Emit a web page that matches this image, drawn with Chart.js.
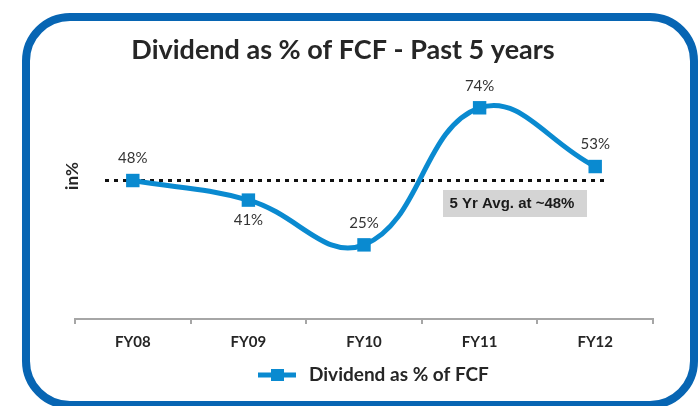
<!DOCTYPE html>
<html>
<head>
<meta charset="utf-8">
<script src="https://cdn.jsdelivr.net/npm/chart.js@4/dist/chart.umd.min.js"></script>
<style>
  html, body { margin: 0; padding: 0; background: #ffffff; }
  #wrap { position: relative; width: 698px; height: 406px; }
</style>
</head>
<body>
<div id="wrap"><canvas id="c" width="698" height="406"></canvas></div>
<script>
const categories = ['FY08', 'FY09', 'FY10', 'FY11', 'FY12'];
const dividendPct = [48, 41, 25, 74, 53];
const labelPlacement = ['above', 'below', 'above', 'above', 'above'];
const avgValue = [48];
const avgText = ['5 Yr Avg. at ~48%'];
const chartTitle = 'Dividend as % of FCF - Past 5 years';
const seriesName = 'Dividend as % of FCF';
const yTitle = 'in%';

const LINE_BLUE = '#0A8AD0';
const FRAME_BLUE = '#0765B3';

const decor = {
  id: 'decor',
  beforeDraw(chart) {
    const ctx = chart.ctx;
    ctx.save();
    ctx.fillStyle = '#ffffff';
    ctx.fillRect(0, 0, chart.width, chart.height);
    // frame
    ctx.strokeStyle = FRAME_BLUE;
    ctx.lineWidth = 8;
    ctx.beginPath();
    ctx.roundRect(26, 17, 668, 388, 44);
    ctx.stroke();
    // title
    ctx.fillStyle = '#262626';
    ctx.font = 'bold 27px Lato';
    ctx.textAlign = 'center';
    ctx.textBaseline = 'middle';
    ctx.fillText(chartTitle, 343, 50);
    // y title
    ctx.save();
    ctx.translate(73, 176);
    ctx.rotate(-Math.PI / 2);
    ctx.font = 'bold 17px Lato';
    ctx.fillText(yTitle, 0, 0);
    ctx.restore();
    // avg dashed line
    const y = chart.scales.y.getPixelForValue(avgValue[0]);
    ctx.strokeStyle = '#111111';
    ctx.lineWidth = 3;
    ctx.setLineDash([4, 5]);
    ctx.beginPath();
    ctx.moveTo(105, y);
    ctx.lineTo(606, y);
    ctx.stroke();
    ctx.setLineDash([]);
    // avg box
    ctx.fillStyle = '#D4D4D4';
    ctx.fillRect(443, 190, 144, 27);
    ctx.fillStyle = '#1a1a1a';
    ctx.font = 'bold 15px "Liberation Sans"';
    ctx.fillText(avgText[0], 512, 204);
    // legend
    ctx.strokeStyle = LINE_BLUE;
    ctx.lineWidth = 5;
    ctx.beginPath();
    ctx.moveTo(258, 375);
    ctx.lineTo(296, 375);
    ctx.stroke();
    ctx.fillStyle = LINE_BLUE;
    ctx.fillRect(271, 369, 13, 12);
    ctx.fillStyle = '#262626';
    ctx.font = 'bold 19px Lato';
    ctx.textAlign = 'left';
    ctx.fillText(seriesName, 309, 375);
    ctx.restore();
  },
  afterDatasetsDraw(chart) {
    const ctx = chart.ctx;
    const meta = chart.getDatasetMeta(0);
    ctx.save();
    ctx.fillStyle = '#333333';
    ctx.font = '15px Lato';
    ctx.textAlign = 'center';
    ctx.textBaseline = 'middle';
    meta.data.forEach((pt, i) => {
      const dy = labelPlacement[i] === 'below' ? 20 : -22;
      ctx.fillText(dividendPct[i] + '%', pt.x, pt.y + dy);
    });
    ctx.restore();
  }
};

new Chart(document.getElementById('c'), {
  type: 'line',
  data: {
    labels: categories,
    datasets: [{
      label: seriesName,
      data: dividendPct,
      borderColor: LINE_BLUE,
      backgroundColor: LINE_BLUE,
      borderWidth: 5,
      tension: 0.42,
      pointStyle: 'rect',
      pointRadius: 9.5,
      pointHoverRadius: 9.5,
      pointBorderWidth: 0,
      clip: false
    }]
  },
  options: {
    responsive: false,
    animation: false,
    devicePixelRatio: 1,
    layout: { padding: { left: 75, right: 45, top: 91, bottom: 46 } },
    plugins: { legend: { display: false }, title: { display: false }, tooltip: { enabled: false } },
    scales: {
      y: { display: false, min: -1.5, max: 80 },
      x: {
        offset: true,
        border: { display: true, color: '#A6A6A6', width: 2 },
        grid: { display: true, drawOnChartArea: false, drawTicks: true, tickLength: 5, color: '#A6A6A6', lineWidth: 2, offset: true },
        ticks: { color: '#262626', font: { family: 'Lato', weight: 'bold', size: 15 }, padding: 9 }
      }
    }
  },
  plugins: [decor]
});
</script>
</body>
</html>
